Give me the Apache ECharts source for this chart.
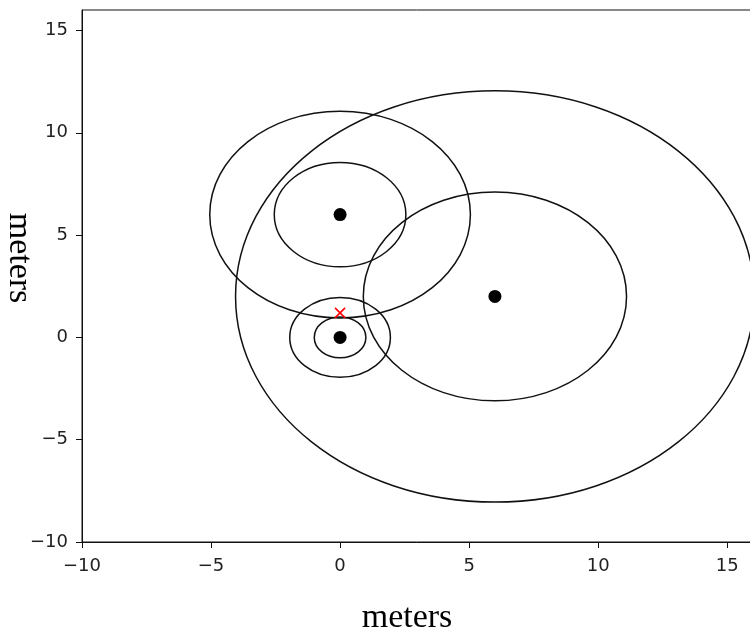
<!DOCTYPE html>
<html>
<head>
<meta charset="utf-8">
<script src="https://cdn.jsdelivr.net/npm/echarts@6/dist/echarts.min.js"></script>
<style>
  html, body { margin: 0; padding: 0; background: #fff; }
  #chart { width: 750px; height: 630px; }
</style>
</head>
<body>
<div id="chart"></div>
<script>
// range circles (center x, center y, radius) in meters
const ringX = [0, 0, 0, 0, 6, 6];
const ringY = [6, 6, 0, 0, 2, 2];
const ringR = [2.55, 5.05, 1, 1.95, 5.1, 10.05];

// anchor points
const anchorX = [0, 0, 6];
const anchorY = [6, 0, 2];

// estimated position (red x)
const estX = [0];
const estY = [1.2];

const tickValues = [-10, -5, 0, 5, 10, 15];

const fmt = v => String(v).replace('-', '\u2212');

const chart = echarts.init(document.getElementById('chart'));

const axisCommon = {
    type: 'value',
    min: -10,
    max: 16,
    interval: 5,
    splitLine: {show: false},
    axisLine: {show: true, onZero: false, lineStyle: {color: '#111', width: 1}},
    axisTick: {show: true, length: 6, customValues: tickValues, lineStyle: {color: '#111'}},
    axisLabel: {
        customValues: tickValues,
        formatter: fmt,
        color: '#222',
        fontFamily: 'DejaVu Sans',
        fontSize: 18
    }
};

const option = {
    animation: false,
    backgroundColor: '#fff',
    grid: {
        left: 82, top: 10, width: 671, height: 532,
        outerBoundsMode: 'none',
        containLabel: false,
        show: true, borderColor: '#111', borderWidth: 1
    },
    xAxis: Object.assign({}, axisCommon, {
        axisLabel: Object.assign({}, axisCommon.axisLabel, {margin: 15})
    }),
    yAxis: Object.assign({}, axisCommon, {
        axisLabel: Object.assign({}, axisCommon.axisLabel, {margin: 14})
    }),
    series: [
        {
            type: 'custom',
            clip: true,
            data: ringX.map((x, i) => [x, ringY[i], ringR[i]]),
            renderItem: (params, api) => {
                const c = api.coord([api.value(0), api.value(1)]);
                const s = api.size([api.value(2), api.value(2)]);
                return {
                    type: 'ellipse',
                    shape: {cx: c[0], cy: c[1], rx: s[0], ry: s[1]},
                    style: {fill: 'none', stroke: '#111', lineWidth: 1.5}
                };
            }
        },
        {
            type: 'scatter',
            symbol: 'circle',
            symbolSize: 13,
            itemStyle: {color: '#000', opacity: 1},
            data: anchorX.map((x, i) => [x, anchorY[i]]),
            z: 3
        },
        {
            type: 'custom',
            data: estX.map((x, i) => [x, estY[i]]),
            z: 4,
            renderItem: (params, api) => {
                const p = api.coord([api.value(0), api.value(1)]);
                const h = 5;
                const st = {stroke: '#ff0000', lineWidth: 1.6};
                return {
                    type: 'group',
                    children: [
                        {type: 'line', shape: {x1: p[0] - h, y1: p[1] - h, x2: p[0] + h, y2: p[1] + h}, style: st},
                        {type: 'line', shape: {x1: p[0] - h, y1: p[1] + h, x2: p[0] + h, y2: p[1] - h}, style: st}
                    ]
                };
            }
        }
    ],
    graphic: [
        {
            type: 'text',
            x: 407, y: 618,
            style: {
                text: 'meters',
                font: '34px "Liberation Serif"',
                fill: '#000',
                align: 'center',
                verticalAlign: 'middle'
            }
        },
        {
            type: 'text',
            x: 19, y: 258,
            rotation: -Math.PI / 2,
            style: {
                text: 'meters',
                font: '34px "Liberation Serif"',
                fill: '#000',
                align: 'center',
                verticalAlign: 'middle'
            }
        }
    ]
};

chart.setOption(option);
</script>
</body>
</html>
